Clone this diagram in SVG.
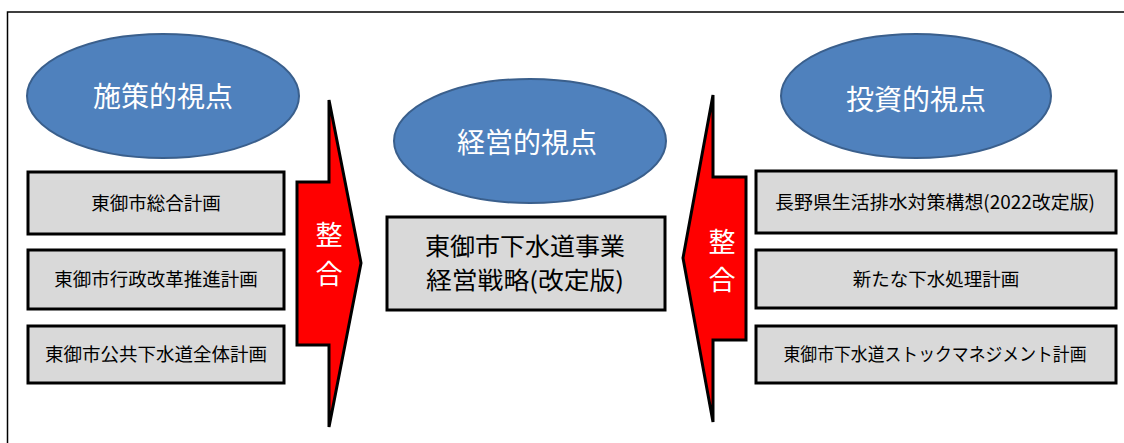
<svg xmlns="http://www.w3.org/2000/svg" width="1124" height="443" viewBox="0 0 1124 443">
<style>
.ell{fill:#4F81BD;stroke:#3A5F8C;stroke-width:2}
.ellt{fill:#FFFFFF;font-family:"Noto Sans CJK JP","Noto Sans",sans-serif;font-size:28px;text-anchor:middle}
.box{fill:#D9D9D9;stroke:#000000;stroke-width:3}
.bt{fill:#000000;font-family:"Noto Sans CJK JP","Noto Sans",sans-serif;font-size:18.5px;text-anchor:middle}
.mt{fill:#000000;font-family:"Noto Sans CJK JP","Noto Sans",sans-serif;font-size:23.5px;text-anchor:middle}
.arr{fill:#FF0000;stroke:#000000;stroke-width:3;stroke-linejoin:miter}
.at{fill:#FFFFFF;font-family:"Noto Sans CJK JP","Noto Sans",sans-serif;font-size:27px;text-anchor:middle}
</style>
<rect x="0" y="0" width="1124" height="443" fill="#FFFFFF"/>
<rect x="7.5" y="12" width="1200" height="500" fill="none" stroke="#000000" stroke-width="1.5"/>
<g id="connectors">
  <g id="arrow-left">
    <polygon class="arr" points="297,182 329,182 329,100 361,263 329,427 329,345 297,345"/>
    <text class="at" x="329" y="245">整</text>
    <text class="at" x="329" y="284">合</text>
  </g>
  <g id="arrow-right">
    <polygon class="arr" points="746,177 713,177 713,95 683,258 713,422 713,340 746,340"/>
    <text class="at" x="722" y="252">整</text>
    <text class="at" x="722" y="290">合</text>
  </g>
</g>
<g id="ellipse-left">
  <ellipse class="ell" cx="163" cy="96" rx="136" ry="62"/>
  <text class="ellt" x="163" y="107">施策的視点</text>
</g>
<g id="ellipse-middle">
  <ellipse class="ell" cx="530" cy="141" rx="136" ry="62"/>
  <text class="ellt" x="527" y="153">経営的視点</text>
</g>
<g id="ellipse-right">
  <ellipse class="ell" cx="916" cy="96" rx="135" ry="62"/>
  <text class="ellt" x="916" y="110">投資的視点</text>
</g>
<g id="box-left-1">
  <rect class="box" x="28" y="172" width="256" height="62"/>
  <text class="bt" x="156" y="210">東御市総合計画</text>
</g>
<g id="box-left-2">
  <rect class="box" x="28" y="250" width="256" height="59"/>
  <text class="bt" x="156" y="286">東御市行政改革推進計画</text>
</g>
<g id="box-left-3">
  <rect class="box" x="28" y="326" width="256" height="57"/>
  <text class="bt" x="156" y="361">東御市公共下水道全体計画</text>
</g>
<g id="box-middle">
  <rect class="box" x="387" y="217" width="278" height="93"/>
  <text class="mt" x="525" y="255" textLength="200" lengthAdjust="spacingAndGlyphs">東御市下水道事業</text>
  <text class="mt" x="525" y="289" textLength="198" lengthAdjust="spacingAndGlyphs">経営戦略(改定版)</text>
</g>
<g id="box-right-1">
  <rect class="box" x="756" y="171" width="360" height="62"/>
  <text class="bt" x="935" y="209" textLength="320" lengthAdjust="spacingAndGlyphs">長野県生活排水対策構想(2022改定版)</text>
</g>
<g id="box-right-2">
  <rect class="box" x="756" y="250" width="360" height="58"/>
  <text class="bt" x="936" y="286">新たな下水処理計画</text>
</g>
<g id="box-right-3">
  <rect class="box" x="756" y="326" width="360" height="57"/>
  <text class="bt" x="935" y="361" textLength="303" lengthAdjust="spacingAndGlyphs">東御市下水道ストックマネジメント計画</text>
</g>
</svg>
